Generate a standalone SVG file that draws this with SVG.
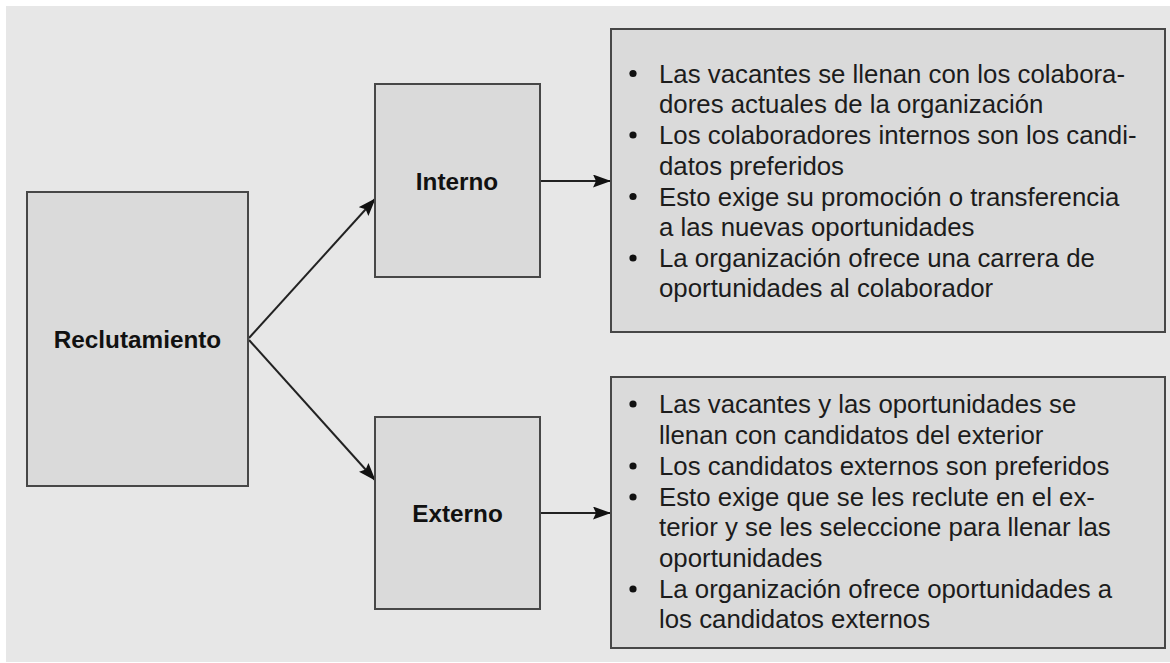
<svg xmlns="http://www.w3.org/2000/svg" width="1170" height="663" viewBox="0 0 1170 663">
<defs>
<style>
.box{fill:#dadada;stroke:#474747;stroke-width:2}
.lbl{font-family:"Liberation Sans",Arial,sans-serif;font-weight:bold;font-size:24.3px;fill:#111;text-anchor:middle}
.txt{font-family:"Liberation Sans",Arial,sans-serif;font-size:25.8px;fill:#1c1c1c}
.bul{fill:#111}
.con{stroke:#222;stroke-width:2;fill:none;marker-end:url(#ah)}
</style>
<marker id="ah" viewBox="0 0 18 13" refX="17" refY="6.5" markerWidth="18" markerHeight="13" markerUnits="userSpaceOnUse" orient="auto">
<path d="M0,0 L18,6.5 L0,13 L3,6.5 z" fill="#111"/>
</marker>
</defs>
<rect x="0" y="0" width="1170" height="663" fill="#ffffff"/>
<rect x="6" y="6" width="1164" height="656" fill="#e7e7e7"/>
<g id="connectors">
<line class="con" x1="249" y1="338" x2="375" y2="199"/>
<line class="con" x1="249" y1="340" x2="375" y2="480"/>
<line class="con" x1="540" y1="181" x2="610" y2="181"/>
<line class="con" x1="540" y1="513" x2="610" y2="513"/>
</g>
<g id="reclutamiento">
<rect class="box" x="27" y="192" width="221" height="294"/>
<text class="lbl" x="137.5" y="348">Reclutamiento</text>
</g>
<g id="interno">
<rect class="box" x="375" y="84" width="165" height="193"/>
<text class="lbl" x="457" y="190">Interno</text>
</g>
<g id="externo">
<rect class="box" x="375" y="417" width="165" height="192"/>
<text class="lbl" x="457.5" y="522">Externo</text>
</g>
<g id="detalle-interno">
<rect class="box" x="611" y="29" width="554" height="303"/>
<circle class="bul" cx="633" cy="73.5" r="3.6"/>
<circle class="bul" cx="633" cy="135" r="3.6"/>
<circle class="bul" cx="633" cy="196.5" r="3.6"/>
<circle class="bul" cx="633" cy="258" r="3.6"/>
<text class="txt" x="659" y="82.5">Las vacantes se llenan con los colabora-</text>
<text class="txt" x="659" y="113">dores actuales de la organización</text>
<text class="txt" x="659" y="144">Los colaboradores internos son los candi-</text>
<text class="txt" x="659" y="174.5">datos preferidos</text>
<text class="txt" x="659" y="205.5">Esto exige su promoción o transferencia</text>
<text class="txt" x="659" y="236">a las nuevas oportunidades</text>
<text class="txt" x="659" y="266.7">La organización ofrece una carrera de</text>
<text class="txt" x="659" y="297">oportunidades al colaborador</text>
</g>
<g id="detalle-externo">
<rect class="box" x="611" y="377" width="554" height="271"/>
<circle class="bul" cx="633" cy="404" r="3.6"/>
<circle class="bul" cx="633" cy="466" r="3.6"/>
<circle class="bul" cx="633" cy="497" r="3.6"/>
<circle class="bul" cx="633" cy="589" r="3.6"/>
<text class="txt" x="659" y="413.3">Las vacantes y las oportunidades se</text>
<text class="txt" x="659" y="444.3">llenan con candidatos del exterior</text>
<text class="txt" x="659" y="475">Los candidatos externos son preferidos</text>
<text class="txt" x="659" y="505.7">Esto exige que se les reclute en el ex-</text>
<text class="txt" x="659" y="535.7">terior y se les seleccione para llenar las</text>
<text class="txt" x="659" y="566.7">oportunidades</text>
<text class="txt" x="659" y="597.7">La organización ofrece oportunidades a</text>
<text class="txt" x="659" y="627.7">los candidatos externos</text>
</g>
</svg>
